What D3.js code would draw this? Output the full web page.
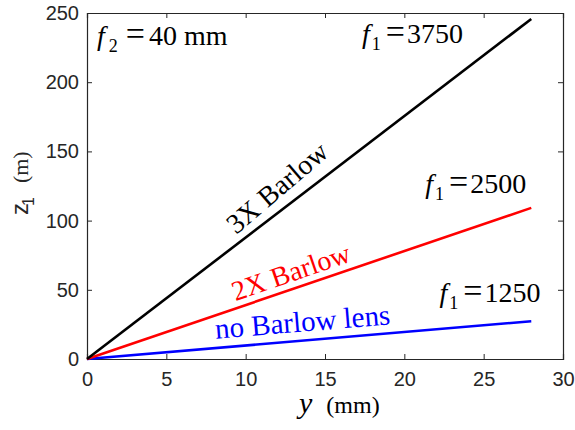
<!DOCTYPE html>
<html><head><meta charset="utf-8">
<script src="https://cdn.jsdelivr.net/npm/d3@7"></script>
<style>body{margin:0;background:#fff}svg{display:block}</style>
</head><body><svg id="c" width="575" height="430"></svg>
<script>
const xTicks = [0, 5, 10, 15, 20, 25, 30];
const yTicks = [0, 50, 100, 150, 200, 250];
const yPos = [0, 28];                 // y (mm)
const noBarlow = [0, 27.3];           // z1 (m), f1 = 1250
const twoX = [0, 109.2];              // f1 = 2500
const threeX = [0, 245.7];            // f1 = 3750
const seriesNames = ["no Barlow lens", "2X Barlow", "3X Barlow"];
const seriesColors = ["#0000ff", "#ff0000", "#000000"];
const f1Labels = ["1250", "2500", "3750"];

const svg = d3.select("#c");
const M = {l: 87, r: 563, t: 13, b: 359};
const x = d3.scaleLinear().domain([0, 30]).range([M.l, M.r]);
const y = d3.scaleLinear().domain([0, 250]).range([M.b, M.t]);
const axCol = "#262626";
const tickFont = "Liberation Sans, Arial, sans-serif";
const serif = "Liberation Serif, Times New Roman, serif";

// axes
const tl = 5;
const gB = svg.append("g").attr("transform", `translate(0,${M.b})`)
  .call(d3.axisBottom(x).tickValues(xTicks).tickSize(-tl).tickPadding(13));
const gT = svg.append("g").attr("transform", `translate(0,${M.t})`)
  .call(d3.axisTop(x).tickValues(xTicks).tickSize(-tl).tickFormat(""));
const gL = svg.append("g").attr("transform", `translate(${M.l},0)`)
  .call(d3.axisLeft(y).tickValues(yTicks).tickSize(-tl).tickPadding(8));
const gR = svg.append("g").attr("transform", `translate(${M.r},0)`)
  .call(d3.axisRight(y).tickValues(yTicks).tickSize(-tl).tickFormat(""));
[gB, gT, gL, gR].forEach(g => {
  g.select(".domain").attr("stroke", axCol).attr("stroke-width", 1.2);
  g.selectAll(".tick line").attr("stroke", axCol).attr("stroke-width", 1);
  g.selectAll(".tick text").attr("fill", axCol).style("font-family", tickFont).style("font-size", "20px");
});

// lines
const data = [noBarlow, twoX, threeX];
const line = d3.line().x(d => x(d[0])).y(d => y(d[1]));
data.forEach((vals, i) => {
  svg.append("path")
    .datum(yPos.map((v, j) => [v, vals[j]]))
    .attr("d", line).attr("fill", "none")
    .attr("stroke", seriesColors[i]).attr("stroke-width", 2.6);
});

// rotated series labels: [x, y (data units), angle, font size]
const labelAnchors = [[8.12, 14.7, -4.7, 29], [9.36, 41.8, -19, 28], [9.4, 89.6, -40.5, 28]];
labelAnchors.forEach((a, i) => {
  svg.append("text")
    .attr("transform", `translate(${x(a[0])},${y(a[1])}) rotate(${a[2]})`)
    .attr("fill", seriesColors[i])
    .style("font-family", serif).style("font-size", a[3] + "px")
    .text(seriesNames[i]);
});

// f labels
function fLabel(px, py, sub, val, gaps) {
  const t = svg.append("text").attr("x", px).attr("y", py)
    .style("font-family", serif).style("font-size", "28px").attr("fill", "#000");
  t.append("tspan").style("font-style", "italic").text("f");
  t.append("tspan").attr("dy", 7).attr("dx", gaps[0]).style("font-size", "18px").text(sub);
  t.append("tspan").attr("dy", -7).attr("dx", gaps[1]).style("font-size", "34px").text("=");
  t.append("tspan").attr("dx", gaps[2]).text(val);
}
fLabel(x(22.22), y(41.4), "1", f1Labels[0], [2, 5, 2]);
fLabel(x(21.32), y(119.9), "1", f1Labels[1], [2, 5, 2]);
fLabel(x(17.33), y(228.3), "1", f1Labels[2], [2, 5, 2]);
fLabel(x(0.63), y(226.9), "2", "40 mm", [4, 8, 4]);

// axis titles
const yl = svg.append("text")
  .attr("transform", `translate(${27.5},${215}) rotate(-90)`)
  .attr("fill", axCol);
yl.append("tspan").style("font-family", tickFont).style("font-size", "24px").text("z");
yl.append("tspan").style("font-family", tickFont).style("font-size", "16px").attr("dy", 6).attr("dx", -3).text("1");
yl.append("tspan").style("font-family", serif).style("font-size", "22px").attr("dy", -6).attr("dx", 14).text("(m)");

const xl = svg.append("text")
  .attr("x", (M.l + M.r) / 2 - 26).attr("y", 413)
  .attr("fill", "#000");
xl.append("tspan").style("font-family", serif).style("font-style", "italic").style("font-size", "30px").text("y");
xl.append("tspan").style("font-family", serif).style("font-size", "24px").attr("dx", 14).text("(mm)");
</script></body></html>
